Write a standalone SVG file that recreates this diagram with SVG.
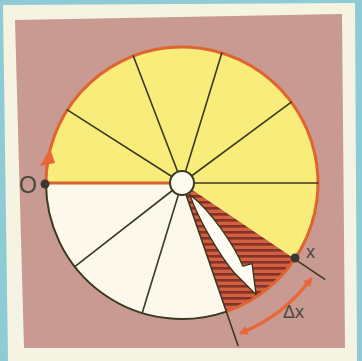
<svg xmlns="http://www.w3.org/2000/svg" width="362" height="361" viewBox="0 0 362 361">
  <defs>
    <pattern id="hatch" patternUnits="userSpaceOnUse" width="8" height="6">
      <rect width="8" height="6" fill="#d2603e"/>
      <rect y="3" width="8" height="2.6" fill="#82322a"/>
    </pattern>
    <marker id="ah" viewBox="0 0 10 10" refX="3" refY="5" markerWidth="3" markerHeight="2.6" orient="auto-start-reverse" markerUnits="strokeWidth">
      <path d="M0,0 L10,5 L0,10 Z" fill="#e8683a"/>
    </marker>
    <style>
      .spoke { stroke: #3b3920; stroke-width: 1.6; fill: none; stroke-linecap: round; }
      .lbl { font-family: "Liberation Sans", Arial, sans-serif; fill: #4a473c; }
    </style>
  </defs>

  <g id="background">
    <rect width="362" height="361" fill="#8ecbd4"/>
    <polygon points="3,5 355,3 357,361 8,361" fill="#f5f3e2"/>
    <polygon points="15,20 342,14 345,348 24,348" fill="#c89a92"/>
  </g>

  <g id="disc">
    <path id="yellow" d="M182,183 L46,183 A136,136 0 1,1 294.7,259.1 Z" fill="#f8ec7a"/>
    <path id="white" d="M182,183 L226.3,311.6 A136,136 0 0,1 46,183 Z" fill="#fcf9ec"/>
    <path id="hatched" d="M182,183 L294.7,259.1 A136,136 0 0,1 226.3,311.6 Z" fill="url(#hatch)"/>
    <path d="M46,183 A136,136 0 1,1 226.3,311.6" fill="none" stroke="#e0642f" stroke-width="3"/>
    <path d="M226.3,311.6 A136,136 0 0,1 46,183" fill="none" stroke="#3b3920" stroke-width="2"/>
  </g>

  <g id="connectors">
    <line class="spoke" x1="182" y1="183" x2="67.3" y2="109.9"/>
    <line class="spoke" x1="182" y1="183" x2="133.3" y2="56"/>
    <line class="spoke" x1="182" y1="183" x2="221.8" y2="52.9"/>
    <line class="spoke" x1="182" y1="183" x2="291.3" y2="102.1"/>
    <line class="spoke" x1="182" y1="183" x2="318" y2="183"/>
    <line class="spoke" x1="182" y1="183" x2="142.2" y2="313.1"/>
    <line class="spoke" x1="182" y1="183" x2="74.8" y2="266.7"/>
    <line class="spoke" x1="182" y1="183" x2="238" y2="345.6"/>
    <line class="spoke" x1="294.7" y1="259.1" x2="324.6" y2="279.2"/>
    <line x1="46" y1="183" x2="182" y2="183" stroke="#d8602c" stroke-width="3.2"/>
    <polygon points="50,148 40,166 55,163" fill="#e8683a"/>
    <path d="M308.5,282 A161,161 0 0,1 244.5,331.5" fill="none" stroke="#e8683a" stroke-width="3.5" marker-start="url(#ah)" marker-end="url(#ah)"/>
  </g>

  <g id="hub">
    <circle cx="182" cy="183" r="12" fill="#fdfbf0" stroke="#3b3920" stroke-width="2"/>
  </g>

  <g id="arrow" transform="translate(182,183) rotate(56)">
    <path d="M14,0 C40,-9 82,-8 103,-4 L106,-13 L134,1 L103,7 C80,9 40,7 14,0 Z" fill="#fdfbf2" stroke="#3b3920" stroke-width="1.4" stroke-linejoin="round"/>
  </g>

  <g id="point-O">
    <circle cx="45" cy="184" r="4.5" fill="#3a3630"/>
    <text class="lbl" x="19" y="193" font-size="23">O</text>
  </g>

  <g id="point-x">
    <circle cx="295" cy="258" r="4.5" fill="#3a3630"/>
    <text class="lbl" x="306" y="258" font-size="18">x</text>
  </g>

  <g id="label-dx">
    <text class="lbl" x="283" y="318" font-size="18">Δx</text>
  </g>
</svg>
